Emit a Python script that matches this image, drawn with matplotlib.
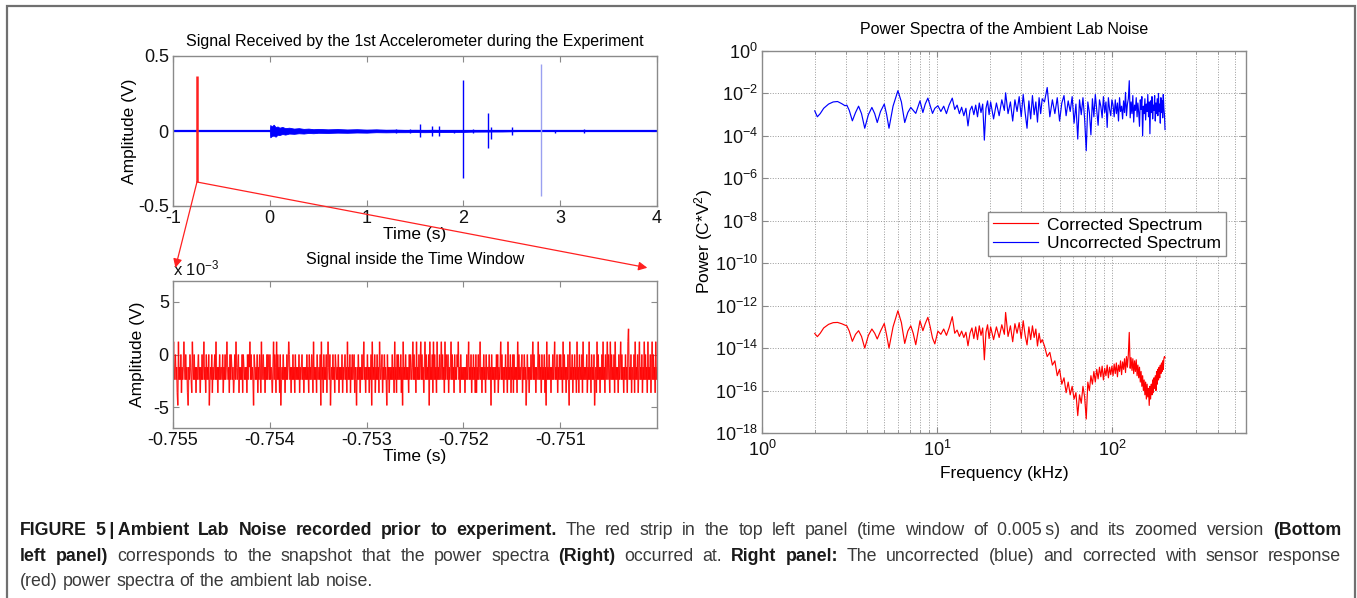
import numpy as np
import matplotlib.pyplot as plt
from matplotlib.patches import ConnectionPatch, Rectangle
from matplotlib.collections import LineCollection
from matplotlib.ticker import LogLocator, NullLocator, NullFormatter

plt.rcParams['font.family'] = ['Liberation Sans', 'DejaVu Sans']
plt.rcParams['axes.unicode_minus'] = False
plt.rcParams['mathtext.fontset'] = 'custom'
plt.rcParams['mathtext.rm'] = 'Liberation Sans'
plt.rcParams['mathtext.it'] = 'Liberation Sans:italic'
plt.rcParams['mathtext.bf'] = 'Liberation Sans:bold'

# %% Top left: whole record (V)
base_t = [-1.0, 4.0]
base_v = [0.0, 0.0]

# envelope of the ringing after t = 0
env_t = [0.0, 0.005, 0.02, 0.04, 0.06, 0.08, 0.1, 0.13, 0.16, 0.2, 0.25, 0.3,
         0.35, 0.4, 0.45, 0.5, 0.6, 0.7, 0.8, 0.9, 1.0, 1.1, 1.2, 1.3, 1.4,
         1.5, 1.6, 1.7, 1.8, 1.9, 2.0, 2.1, 2.4, 2.6]
env_hi = [0.0, 0.04, 0.03, 0.042, 0.026, 0.03, 0.022, 0.027, 0.019, 0.022,
          0.016, 0.019, 0.014, 0.016, 0.012, 0.014, 0.011, 0.013, 0.01, 0.012,
          0.009, 0.011, 0.008, 0.009, 0.007, 0.008, 0.007, 0.008, 0.006,
          0.007, 0.005, 0.004, 0.003, 0.0]
env_lo = [0.0, -0.042, -0.034, -0.03, -0.038, -0.025, -0.027, -0.02, -0.024,
          -0.017, -0.019, -0.015, -0.017, -0.013, -0.015, -0.012, -0.013,
          -0.011, -0.012, -0.01, -0.011, -0.008, -0.009, -0.008, -0.008,
          -0.007, -0.008, -0.007, -0.007, -0.006, -0.006, -0.004, -0.003, 0.0]

spike_t = [1.3, 1.45, 1.55, 1.68, 1.75, 1.9, 2.0, 2.1, 2.25, 2.29, 2.5, 2.8,
           2.95, 3.25]
spike_hi = [0.015, 0.012, 0.045, 0.035, 0.035, 0.01, 0.34, 0.015, 0.12, 0.03,
            0.025, 0.45, 0.01, 0.012]
spike_lo = [-0.015, -0.012, -0.04, -0.03, -0.03, -0.01, -0.31, -0.015, -0.11,
            -0.05, -0.025, -0.43, -0.015, -0.012]

# the 0.005 s window shown in red
win_t = -0.7525
win_hi = 0.37
win_lo = -0.34

# %% Bottom left: samples inside the window, quantised levels (x 1e-3 V)
level_values = [-4.85, -3.65, -2.4, -1.2, 0.0, 1.22, 2.45]
level_rows = [
    "3523423105232413235324231032432153242313",
    "2342313242352314232402324132342523132423",
    "3241324235323142432312425323413232414323",
    "2314243524232043232413243152342313242432",
    "4232135243152423140232423132423542313242",
    "3142323241323423132324231423243152323142",
    "2324052314232413532402324231432324132324",
    "1323423152324132423413203242313242352313",
    "2423132405232413242315323413242320423132",
    "3242315231424232413052324232314243235242",
    "3152324235242313524232405232415242315232",
    "4235242315243241323524231423243523142323",
    "2313242352324132423141324235231324231423",
    "3242304232313242413235242313242315232413",
    "2414232315242323413242302423132423524231",
    "3235242314232413052324231324235232413242",
    "4231524231324205232413242315231423241523",
    "2324132523142324023152423132425231423524",
    "3152423241523231423524231324231562324132",
    "2415232413523241325242315232413524231523",
]
win_start = -0.755
win_end = -0.750

# %% Right: power spectra (log10 of power)
freq_khz = [
    2.0, 2.07, 2.15, 2.25, 2.4, 2.55, 2.7, 2.85, 2.98, 3.05, 3.15, 3.28, 3.42,
    3.56, 3.7, 3.86, 4.05, 4.24, 4.4, 4.55, 4.75, 4.99, 5.15, 5.31, 5.6, 5.97,
    6.25, 6.53, 6.8, 7.07, 7.3, 7.55, 7.98, 8.29, 8.55, 8.85, 9.1, 9.41, 9.7,
    10.1,
    10.5, 10.9, 11.3, 11.7, 12.2, 12.6, 13.0, 13.4, 13.8, 14.2, 14.6, 15.0,
    15.4, 15.8, 16.2, 16.6, 17.0, 17.4, 17.8, 18.2, 18.6, 19.0, 19.4, 19.8,
    20.2,
    21.0, 21.8, 22.6, 23.4, 24.2, 24.6, 25.4, 26.2, 27.0, 27.8, 28.6, 29.4,
    30.2, 31.0, 31.8, 32.6, 33.4, 34.2, 35.0, 35.8, 36.6, 37.4, 38.2, 39.0,
    39.8,
    41.0, 42.5, 44.0, 45.5, 47.0, 48.5, 50.0, 51.5, 53.0, 54.5, 56.0, 57.5,
    59.0, 60.5, 62.0, 63.5, 65.0, 66.5, 68.0, 69.5, 71.0, 72.5, 74.0, 75.5,
    77.0, 78.5, 80.0, 81.5, 83.0, 84.5, 86.0, 87.5, 89.0, 90.5, 92.0, 93.5,
    95.0, 96.5, 98.0, 99.5,
    101.0, 102.5, 104.0, 105.5, 107.0, 108.5, 110.0, 111.5, 113.0, 114.5,
    116.0, 117.5, 119.0, 120.5, 122.0, 123.5, 125.0, 126.5, 128.0, 129.5,
    131.0, 132.5, 134.0, 135.5, 137.0, 138.5, 140.0, 141.5, 143.0, 144.5,
    146.0, 147.5, 149.0, 150.5, 152.0, 153.5, 155.0, 156.5, 158.0, 159.5,
    161.0, 162.5, 164.0, 165.5, 167.0, 168.5, 170.0, 171.5, 173.0, 174.5,
    176.0, 177.5, 179.0, 180.5, 182.0, 183.5, 185.0, 186.5, 188.0, 189.5,
    191.0, 192.5, 194.0, 195.5, 197.0, 198.5, 200.0,
]
uncorrected_log = [
    -2.82, -3.10, -2.95, -2.70, -2.50, -2.40, -2.38, -2.48, -2.58, -2.55,
    -2.80, -3.29, -2.90, -2.60, -2.95, -3.64, -3.00, -2.66, -2.95, -3.37,
    -2.85, -2.50, -3.00, -3.64, -2.60, -1.87, -2.40, -3.37, -2.90, -2.66,
    -2.80, -2.94, -2.35, -2.90, -2.50, -2.22, -2.55, -2.94, -2.70, -2.58,
    -2.85, -2.60, -2.95, -2.55, -2.22, -2.75, -2.55, -2.95, -2.65, -3.05,
    -2.70, -3.53, -2.80, -2.60, -3.00, -2.55, -3.10, -2.45, -2.90, -2.50,
    -4.20, -2.70, -2.35, -3.00, -2.40,
    -3.20, -2.45, -3.05, -2.30, -2.80, -1.97, -2.95, -2.40, -3.30, -2.30,
    -2.85, -2.15, -3.10, -2.05, -2.90, -3.64, -2.35, -3.20, -2.10, -3.00,
    -2.40, -3.35, -2.20, -2.95, -2.25,
    -2.40, -1.72, -3.10, -2.30, -2.95, -2.20, -3.30, -2.45, -2.10, -3.05,
    -2.35, -2.85, -2.15, -3.40, -2.50, -4.15, -2.30, -3.00, -2.20, -3.20,
    -4.70, -2.40, -2.90, -3.95, -2.25, -3.10, -2.05, -2.80, -3.50, -2.30,
    -2.60, -3.15, -2.15, -2.90, -2.40, -3.60, -2.20, -2.75, -3.05, -2.30,
    -2.55, -3.10, -2.30, -2.95, -2.45, -3.30, -2.20, -2.85, -2.60, -3.20,
    -2.35, -2.90, -1.95, -3.05, -2.50, -2.25, -1.40, -3.15, -2.40, -2.95,
    -2.10, -3.35, -2.55, -2.80, -2.20, -3.10, -2.45, -2.90, -3.55, -2.30,
    -2.75, -2.15, -4.00, -2.60, -2.95, -2.25, -3.25, -2.50, -2.85, -2.05,
    -3.10, -2.40, -3.90, -2.35, -2.90, -2.15, -3.20, -2.55, -2.80, -2.10,
    -3.30, -2.45, -2.95, -2.25, -3.05, -2.00, -2.85, -2.50, -3.40, -2.20,
    -2.90, -2.35, -3.15, -2.05, -2.70, -3.00, -3.70,
]
corrected_log = [
    -13.31, -13.46, -13.30, -13.05, -12.88, -12.80, -12.79, -12.85, -12.92,
    -12.95, -13.20, -13.68, -13.35, -13.18, -13.45, -14.00, -13.40, -13.10,
    -13.30, -13.57, -13.20, -12.84, -13.40, -14.00, -13.00, -12.24, -12.80,
    -13.78, -13.20, -12.95, -13.30, -13.84, -12.71, -13.18, -12.85, -12.55,
    -12.95, -13.53, -13.80, -13.20,
    -13.35, -13.10, -13.40, -13.05, -12.52, -13.30, -13.15, -13.45, -13.20,
    -13.50, -13.25, -13.89, -13.30, -13.05, -13.55, -13.00, -13.60, -12.95,
    -13.40, -13.05, -14.55, -13.25, -12.90, -13.55, -13.00,
    -13.60, -13.00, -13.50, -12.90, -13.35, -12.32, -13.45, -12.95, -13.70,
    -12.85, -13.30, -12.80, -13.55, -12.71, -13.40, -13.85, -13.00, -13.60,
    -12.95, -13.50, -13.10, -13.90, -13.30, -13.75, -13.60,
    -13.90, -14.40, -14.20, -14.80, -14.60, -15.30, -15.00, -15.70, -15.40,
    -16.10, -15.60, -16.20, -15.80, -16.40, -16.10, -17.18, -16.20, -16.60,
    -15.80, -16.30, -17.34, -15.60, -16.00, -15.30, -15.70, -15.10, -15.60,
    -15.00, -15.45, -14.90, -15.35, -14.85, -15.50, -14.95, -15.30, -14.80,
    -15.40, -14.90, -15.25, -14.85,
    -15.30, -14.75, -15.20, -14.70, -15.35, -14.80, -15.10, -14.60, -15.25,
    -14.65, -15.00, -14.50, -15.15, -14.40, -14.90, -14.30, -13.26, -14.95,
    -14.45, -15.05, -14.50, -15.20, -14.60, -15.10, -14.55, -15.30, -14.80,
    -15.40, -14.90, -15.60, -15.10, -15.80, -15.30, -16.00, -15.50, -16.20,
    -15.60, -16.40, -15.70, -16.30, -15.90, -16.70, -15.80, -16.40, -15.70,
    -16.20, -15.50, -16.10, -15.40, -15.90, -15.30, -16.00, -15.10, -15.70,
    -15.00, -15.50, -14.90, -15.40, -14.80, -15.20, -14.70, -15.10, -14.60,
    -15.00, -14.50, -14.40, -14.45,
]

# %% Caption text: (text, bold) pieces per line
caption_lines = [
    [("FIGURE 5\u2009|\u2009Ambient Lab Noise recorded prior to experiment.", True),
     ("The red strip in the top left panel (time window of 0.005\u2009s) and "
      "its zoomed version", False),
     ("(Bottom", True)],
    [("left panel)", True),
     ("corresponds to the snapshot that the power spectra", False),
     ("(Right)", True),
     ("occurred at.", False),
     ("Right panel:", True),
     ("The uncorrected (blue) and corrected with sensor response", False)],
    [("(red) power spectra of the ambient lab noise.", False)],
]

W, H = 1357, 598
fig = plt.figure(figsize=(W / 100, H / 100), dpi=100)
spine_col = '#8a8a8a'


def style_axes(ax):
    for s in ax.spines.values():
        s.set_color(spine_col)
        s.set_linewidth(1.0)
    ax.tick_params(direction='in', top=True, right=True, labelsize=13,
                   length=4, color=spine_col, labelcolor='#111111', pad=3)
    ax.tick_params(which='minor', direction='in', top=True, right=True,
                   length=2, color=spine_col)


# %% Top left
ax1 = fig.add_axes([173 / W, 1 - 206 / H, 484 / W, 150 / H])
ax1.plot(base_t, base_v, color='#0000ff', lw=1.6)
ax1.fill_between(env_t, env_lo, env_hi, color='#0000ff', lw=0.6)
spike_cols = ['#0000ff'] * len(spike_t)
spike_cols[spike_t.index(2.8)] = '#9aa0f0'
ax1.vlines(spike_t, spike_lo, spike_hi, colors=spike_cols, lw=1.0)
ax1.vlines([win_t], [win_lo], [win_hi], colors='#ff2020', lw=1.8)
ax1.set_xlim(-1, 4)
ax1.set_ylim(-0.5, 0.5)
ax1.set_xticks([-1, 0, 1, 2, 3, 4])
ax1.set_yticks([-0.5, 0, 0.5])
ax1.set_yticklabels(['-0.5', '0', '0.5'])
style_axes(ax1)
ax1.set_xlabel('Time (s)', fontsize=12.5, labelpad=0)
ax1.set_ylabel('Amplitude (V)', fontsize=12.5, labelpad=1)
ax1.set_title('Signal Received by the 1st Accelerometer during the Experiment',
              fontsize=11.5, pad=7)

# %% Bottom left
ax2 = fig.add_axes([173 / W, 1 - 428 / H, 484 / W, 147 / H])
levels = [int(c) for c in ''.join(level_rows)]
win_v = np.array(level_values)[levels]
win_time = np.linspace(win_start, win_end, len(win_v))
# separate segments so that overlapping strokes build up the solid band
pts = np.column_stack([win_time, win_v])
segs = np.stack([pts[:-1], pts[1:]], axis=1)
ax2.add_collection(LineCollection(segs, colors='#ff0000', linewidths=1.0,
                                  alpha=0.8))
ax2.set_xlim(win_start, win_end)
ax2.set_ylim(-7, 7)
ax2.set_xticks([-0.755, -0.754, -0.753, -0.752, -0.751])
ax2.set_xticklabels(['-0.755', '-0.754', '-0.753', '-0.752', '-0.751'])
ax2.set_yticks([-5, 0, 5])
ax2.set_yticklabels(['-5', '0', '5'])
style_axes(ax2)
ax2.set_xlabel('Time (s)', fontsize=12.5, labelpad=0)
ax2.set_ylabel('Amplitude (V)', fontsize=12.5, labelpad=6)
ax2.set_title('Signal inside the Time Window', fontsize=11.5, pad=12)
ax2.text(0.0, 1.015, 'x 10$^{-3}$', transform=ax2.transAxes, fontsize=12,
         ha='left', va='bottom', color='#111111')

# red connectors from the strip to the zoomed panel
for xb in (0.005, 0.98):
    con = ConnectionPatch(xyA=(win_t, win_lo), coordsA=ax1.transData,
                          xyB=(xb, 1.09), coordsB=ax2.transAxes,
                          arrowstyle='-|>', color='#ff2020', lw=0.9,
                          mutation_scale=13)
    fig.add_artist(con)

# %% Right: spectra
ax3 = fig.add_axes([762 / W, 1 - 433 / H, 484 / W, 382 / H])
ax3.plot(freq_khz, 10.0 ** np.array(corrected_log), color='#ff0000', lw=0.85,
         label='Corrected Spectrum')
ax3.plot(freq_khz, 10.0 ** np.array(uncorrected_log), color='#0000ff', lw=0.85,
         label='Uncorrected Spectrum')
ax3.set_xscale('log')
ax3.set_yscale('log')
ax3.set_xlim(1, 580)
ax3.set_ylim(1e-18, 1)
ax3.set_yticks([10.0 ** k for k in range(-18, 1, 2)])
ax3.yaxis.set_minor_locator(NullLocator())
ax3.xaxis.set_major_locator(LogLocator(base=10, numticks=10))
ax3.xaxis.set_minor_locator(LogLocator(base=10, subs=np.arange(2, 10),
                                       numticks=20))
ax3.xaxis.set_minor_formatter(NullFormatter())
style_axes(ax3)
ax3.tick_params(axis='x', pad=5)
ax3.grid(True, which='major', ls=':', color='#9a9a9a', lw=0.7)
ax3.grid(True, which='minor', axis='x', ls=':', color='#9a9a9a', lw=0.7)
ax3.set_xlabel('Frequency (kHz)', fontsize=12.5, labelpad=4)
ax3.set_ylabel('Power (C*V$^2$)', fontsize=12.5, labelpad=0)
ax3.set_title('Power Spectra of the Ambient Lab Noise', fontsize=11.5, pad=12)
leg = ax3.legend(loc='upper right', bbox_to_anchor=(0.959, 0.578),
                 fontsize=12.5, fancybox=False, framealpha=1,
                 edgecolor='#8a8a8a', handlelength=2.6, borderpad=0.3,
                 labelspacing=0.2, handletextpad=0.5, borderaxespad=0)
leg.get_frame().set_linewidth(1.0)

# %% Outer frame
fig.add_artist(Rectangle((7 / W, -0.1), (1355 - 7) / W, 1 - 6 / H + 0.1,
                         transform=fig.transFigure, fill=False,
                         edgecolor='#707070', lw=1.6))

# %% Caption, justified like the journal layout
renderer = fig.canvas.get_renderer()
cap_x0, cap_x1 = 20, 1341
cap_y = [529, 555, 580]
cap_size = 12.8
for li, (segs_txt, yp) in enumerate(zip(caption_lines, cap_y)):
    words = []
    for text, bold in segs_txt:
        for w in text.split(' '):
            if w:
                words.append((w, bold))
    arts = []
    for w, bold in words:
        t = fig.text(0, 1 - (yp + 6) / H, w, fontsize=cap_size,
                     fontweight='bold' if bold else 'normal',
                     color='#1a1a1a' if bold else '#3a3a3a',
                     ha='left', va='baseline')
        arts.append(t)
    widths = [a.get_window_extent(renderer).width for a in arts]
    if li < len(caption_lines) - 1:
        gap = (cap_x1 - cap_x0 - sum(widths)) / (len(arts) - 1)
    else:
        gap = cap_size * 100 / 72 * 0.28
    x = cap_x0
    for a, wd in zip(arts, widths):
        a.set_x(x / W)
        x += wd + gap

fig.savefig('out.png', dpi=100)
